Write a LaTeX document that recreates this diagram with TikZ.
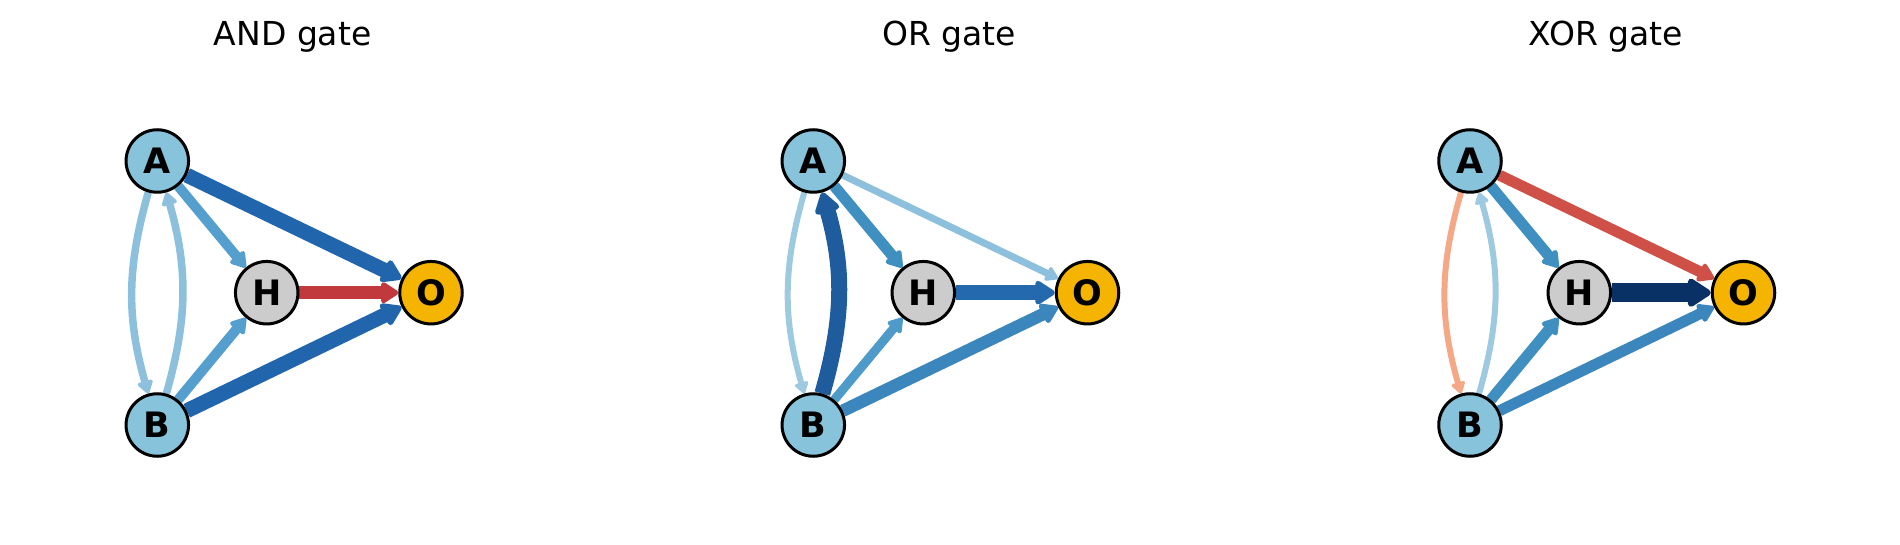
\documentclass[tikz,border=0pt]{standalone}
\usepackage{fontspec}
\setmainfont{DejaVu Sans}
\usetikzlibrary{arrows.meta}
\pgfdeclarelayer{bg}
\pgfsetlayers{bg,main}
\definecolor{nodeblue}{HTML}{87C3DB}
\definecolor{nodegray}{HTML}{CCCCCC}
\definecolor{nodeorange}{HTML}{F5B400}
\definecolor{eLight}{HTML}{8CC0DD}
\definecolor{eLighter}{HTML}{9ECAE1}
\definecolor{eMid}{HTML}{549FCD}
\definecolor{eMidB}{HTML}{3F8FC1}
\definecolor{eMidC}{HTML}{4E9BC9}
\definecolor{eMidD}{HTML}{3A86BD}
\definecolor{eDark}{HTML}{2166AC}
\definecolor{eDarkB}{HTML}{1F5C9E}
\definecolor{eDarkC}{HTML}{2469AD}
\definecolor{eNavy}{HTML}{0A3166}
\definecolor{eRed}{HTML}{C1393C}
\definecolor{eRedB}{HTML}{CF5047}
\definecolor{eOrange}{HTML}{F4A886}
\tikzset{
  gnode/.style={circle, draw=black, line width=3pt, minimum size=62.5pt, inner sep=0pt,
    font=\fontsize{35}{35}\selectfont\bfseries},
  inp/.style={gnode, fill=nodeblue},
  hid/.style={gnode, fill=nodegray},
  outn/.style={gnode, fill=nodeorange},
  edge/.style={-{Triangle[length=7pt 1.0, width=8pt 1.25, round]}},
  gtitle/.style={font=\fontsize{33}{33}\selectfont, anchor=base, inner sep=0pt},
}
\begin{document}
\begin{tikzpicture}[x=1pt,y=1pt]
\useasboundingbox (0,0) rectangle (1900,544);
% ---------- AND gate ----------
\node[gtitle] (t1) at (292.7,498) {AND gate};
\node[inp] (A1) at (157.3,383) {A};
\node[inp] (B1) at (157.3,119) {B};
\node[hid] (H1) at (266.7,251.3) {H};
\node[outn] (O1) at (431,251.3) {O};
\begin{pgfonlayer}{bg}
\draw[edge, line width=7.5pt, draw=eLight] (A1) to[bend right=16] (B1);
\draw[edge, line width=7.5pt, draw=eLight] (B1) to[bend right=16] (A1);
\draw[edge, line width=10pt, draw=eMid] (A1) -- (H1);
\draw[edge, line width=10pt, draw=eMid] (B1) -- (H1);
\draw[edge, line width=15pt, draw=eDark] (A1) -- (O1);
\draw[edge, line width=15pt, draw=eDark] (B1) -- (O1);
\draw[edge, line width=12.5pt, draw=eRed] (H1) -- (O1);
\end{pgfonlayer}
% ---------- OR gate ----------
\node[gtitle] (t2) at (949,498) {OR gate};
\node[inp] (A2) at (813.3,383) {A};
\node[inp] (B2) at (813.3,119) {B};
\node[hid] (H2) at (923.3,251.3) {H};
\node[outn] (O2) at (1087.5,251.3) {O};
\begin{pgfonlayer}{bg}
\draw[edge, line width=6pt, draw=eLighter] (A2) to[bend right=16] (B2);
\draw[edge, line width=16pt, draw=eDarkB] (B2) to[bend right=16] (A2);
\draw[edge, line width=11pt, draw=eMidB] (A2) -- (H2);
\draw[edge, line width=9pt, draw=eMidC] (B2) -- (H2);
\draw[edge, line width=7pt, draw=eLight] (A2) -- (O2);
\draw[edge, line width=12.5pt, draw=eMidD] (B2) -- (O2);
\draw[edge, line width=15pt, draw=eDarkC] (H2) -- (O2);
\end{pgfonlayer}
% ---------- XOR gate ----------
\node[gtitle] (t3) at (1606,498) {XOR gate};
\node[inp] (A3) at (1470,383) {A};
\node[inp] (B3) at (1470,119) {B};
\node[hid] (H3) at (1579.3,251.3) {H};
\node[outn] (O3) at (1743.5,251.3) {O};
\begin{pgfonlayer}{bg}
\draw[edge, line width=6pt, draw=eOrange] (A3) to[bend right=16] (B3);
\draw[edge, line width=6pt, draw=eLighter] (B3) to[bend right=16] (A3);
\draw[edge, line width=11pt, draw=eMidB] (A3) -- (H3);
\draw[edge, line width=11pt, draw=eMidB] (B3) -- (H3);
\draw[edge, line width=11pt, draw=eRedB] (A3) -- (O3);
\draw[edge, line width=11pt, draw=eMidD] (B3) -- (O3);
\draw[edge, line width=19pt, draw=eNavy] (H3) -- (O3);
\end{pgfonlayer}
\end{tikzpicture}
\end{document}
